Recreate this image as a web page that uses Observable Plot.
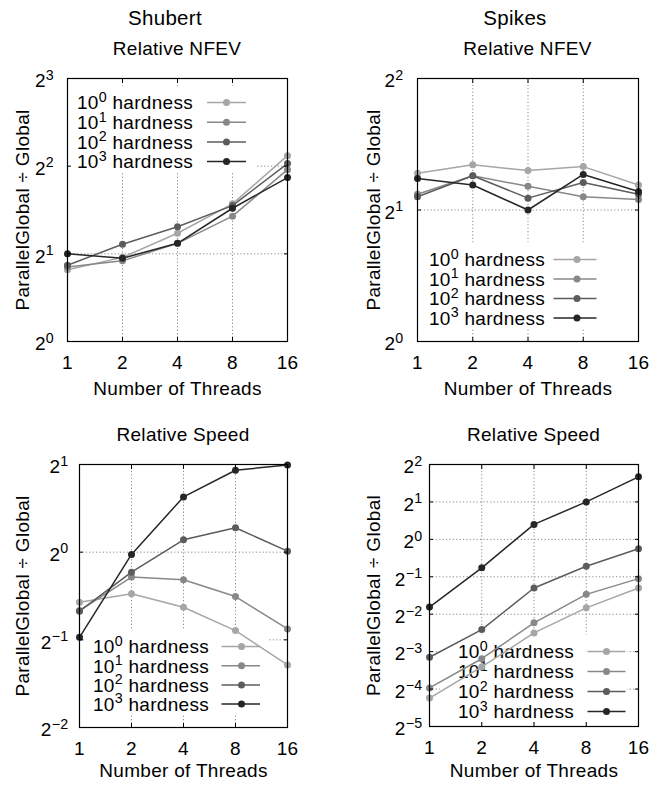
<!DOCTYPE html>
<html><head><meta charset="utf-8">
<script src="https://cdn.jsdelivr.net/npm/d3@7"></script>
<script src="https://cdn.jsdelivr.net/npm/@observablehq/plot@0.6"></script>
<style>
body{margin:0;background:#fff;}
#root{position:relative;width:671px;height:787px;overflow:hidden;font-family:"Liberation Sans",Arial,Helvetica,sans-serif;color:#000;}
.t{position:absolute;transform:translateX(-50%);white-space:nowrap;line-height:1;letter-spacing:0.3px;}
</style></head><body><div id="root"></div>
<script>
// ---- data ----
const threads = [1, 2, 4, 8, 16];
const hardnessExp = ["0", "1", "2", "3"];
const hardnessLabels = ["10^0 hardness", "10^1 hardness", "10^2 hardness", "10^3 hardness"];

const shubertNfevH0 = [1.763, 1.945, 2.354, 2.969, 4.347];
const shubertNfevH1 = [1.802, 1.892, 2.173, 2.694, 3.891];
const shubertNfevH2 = [1.828, 2.158, 2.479, 2.928, 4.084];
const shubertNfevH3 = [2.000, 1.932, 2.173, 2.868, 3.655];

const spikesNfevH0 = [2.428, 2.540, 2.462, 2.514, 2.282];
const spikesNfevH1 = [2.173, 2.395, 2.266, 2.144, 2.114];
const spikesNfevH2 = [2.144, 2.395, 2.129, 2.313, 2.173];
const spikesNfevH3 = [2.362, 2.282, 2.000, 2.412, 2.204];

const shubertSpeedH0 = [0.673, 0.720, 0.647, 0.538, 0.410];
const shubertSpeedH1 = [0.630, 0.821, 0.804, 0.704, 0.545];
const shubertSpeedH2 = [0.627, 0.854, 1.103, 1.213, 1.008];
const shubertSpeedH3 = [0.510, 0.982, 1.548, 1.911, 1.993];

const spikesSpeedH0 = [0.0529, 0.0941, 0.1768, 0.2813, 0.4061];
const spikesSpeedH1 = [0.0638, 0.1096, 0.2132, 0.3610, 0.4830];
const spikesSpeedH2 = [0.1127, 0.1882, 0.4061, 0.6071, 0.8409];
const spikesSpeedH3 = [0.2852, 0.5905, 1.3195, 2.0000, 3.1820];

// y tick exponents (labels 2^k)
const yExpShubertNfev = [0, 1, 2, 3];
const yExpSpikesNfev = [0, 1, 2];
const yExpShubertSpeed = [-2, -1, 0, 1];
const yExpSpikesSpeed = [-5, -4, -3, -2, -1, 0, 1, 2];

const xLabel = "Number of Threads";
const yLabel = "ParallelGlobal \u00f7 Global";

// ---- style ----
const FONT = '"Liberation Sans", Arial, Helvetica, sans-serif';
const FS = 19;
const seriesColors = ["#a6a6a6", "#888888", "#5c5c5c", "#262626"];
const gridColor = "#8a8a8a";

const panels = [
  {left: 0, top: 0, w: 335, h: 400, mL: 67, mR: 48, mT: 78, mB: 59, yPad: 13.5, yLabOff: 52, xLabOff: 53,
   yExps: yExpShubertNfev, series: [shubertNfevH0, shubertNfevH1, shubertNfevH2, shubertNfevH3],
   key: {row0: 102.5, gap: 19.7, textEnd: 193, l1: 207, l2: 246, mk: 226.5, bL: 70, bR: 256}},
  {left: 335, top: 0, w: 336, h: 400, mL: 82, mR: 33, mT: 78, mB: 59, yPad: 14, yLabOff: 50.6, xLabOff: 53,
   yExps: yExpSpikesNfev, series: [spikesNfevH0, spikesNfevH1, spikesNfevH2, spikesNfevH3],
   key: {row0: 259.5, gap: 19.5, textEnd: 210, l1: 218.5, l2: 261.5, mk: 242, bL: 86, bR: 272}},
  {left: 0, top: 400, w: 335, h: 387, mL: 79, mR: 48, mT: 64, mB: 60, yPad: 11, yLabOff: 64, xLabOff: 49.5,
   yExps: yExpShubertSpeed, series: [shubertSpeedH0, shubertSpeedH1, shubertSpeedH2, shubertSpeedH3],
   key: {row0: 246.5, gap: 19.2, textEnd: 209, l1: 221.5, l2: 260, mk: 241.5, bL: 84, bR: 269}},
  {left: 335, top: 400, w: 336, h: 387, mL: 94, mR: 33, mT: 64, mB: 61, yPad: 7, yLabOff: 62.6, xLabOff: 50,
   yExps: yExpSpikesSpeed, series: [spikesSpeedH0, spikesSpeedH1, spikesSpeedH2, spikesSpeedH3],
   key: {row0: 251.5, gap: 20, textEnd: 239, l1: 252.5, l2: 290.5, mk: 271.5, bL: 105, bR: 292}}
];

const titles = [
  {text: "Shubert", x: 165, top: 7.5, size: 20.5},
  {text: "Spikes", x: 515, top: 7.5, size: 20.5},
  {text: "Relative NFEV", x: 177, top: 39, size: FS},
  {text: "Relative NFEV", x: 527.5, top: 39, size: FS},
  {text: "Relative Speed", x: 183, top: 425, size: FS},
  {text: "Relative Speed", x: 533.5, top: 425, size: FS}
];

const root = document.getElementById("root");
titles.forEach(t => {
  const d = document.createElement("div");
  d.className = "t";
  d.textContent = t.text;
  Object.assign(d.style, {left: t.x + "px", top: t.top + "px", fontSize: t.size + "px"});
  root.appendChild(d);
});

function supText(sel, base, exp, after) {
  sel.text(null);
  sel.append("tspan").text(base);
  sel.append("tspan").attr("font-size", "0.75em").attr("dy", -7.5).text(exp);
  if (after) sel.append("tspan").attr("dy", 7.5).text(after);
}

panels.forEach(p => {
  const yTicks = p.yExps.map(e => Math.pow(2, e));
  const rows = [];
  p.series.forEach((vals, i) => vals.forEach((v, j) => rows.push({threads: threads[j], value: v, hardness: hardnessLabels[i]})));
  const gridStyle = {stroke: gridColor, strokeOpacity: 1, strokeWidth: 1, strokeDasharray: "1.2,2.2"};
  const marks = [
    Plot.gridX(threads.slice(1, -1), gridStyle),
    Plot.gridY(yTicks.slice(1, -1), gridStyle)
  ];
  hardnessLabels.forEach(h => {
    const d = rows.filter(r => r.hardness === h);
    marks.push(Plot.line(d, {x: "threads", y: "value", stroke: "hardness", strokeWidth: 1.5}));
    marks.push(Plot.dot(d, {x: "threads", y: "value", fill: "hardness", r: 3.5}));
  });
  // inward mirrored ticks (gnuplot style)
  const tickStyle = {tickSize: -4, fill: "none", label: null, stroke: "#000"};
  marks.push(Plot.axisX({anchor: "bottom", ticks: threads, ...tickStyle}));
  marks.push(Plot.axisX({anchor: "top", ticks: threads, ...tickStyle}));
  marks.push(Plot.axisY({anchor: "left", ticks: yTicks, ...tickStyle}));
  marks.push(Plot.axisY({anchor: "right", ticks: yTicks, ...tickStyle}));
  marks.push(Plot.frame({stroke: "#000", strokeWidth: 1.2}));
  marks.push(Plot.axisX({ticks: threads, tickSize: 0, tickPadding: 13.5, tickFormat: d => String(d),
    label: xLabel, labelAnchor: "center", labelOffset: p.xLabOff, labelArrow: "none"}));
  marks.push(Plot.axisY({ticks: yTicks, tickSize: 0, tickPadding: p.yPad, dy: 2.7,
    tickFormat: d => "2^" + Math.round(Math.log2(d)),
    label: yLabel, labelAnchor: "center", labelOffset: p.yLabOff, labelArrow: "none"}));

  const svg = Plot.plot({
    width: p.w, height: p.h,
    marginLeft: p.mL, marginRight: p.mR, marginTop: p.mT, marginBottom: p.mB,
    style: {fontFamily: FONT, fontSize: FS + "px", letterSpacing: "0.3px", color: "#000", background: "none", overflow: "visible"},
    x: {type: "log", base: 2, domain: [threads[0], threads[threads.length - 1]], labelArrow: "none"},
    y: {type: "log", base: 2, domain: [yTicks[0], yTicks[yTicks.length - 1]], labelArrow: "none"},
    color: {domain: hardnessLabels, range: seriesColors},
    marks
  });
  Object.assign(svg.style, {position: "absolute", left: p.left + "px", top: p.top + "px"});

  // strip any label arrows
  d3.select(svg).selectAll("text").each(function () {
    if (/[\u2191\u2192\u2190\u2193]/.test(this.textContent) && this.childElementCount === 0) {
      this.textContent = this.textContent.replace(/\s*[\u2191\u2192\u2190\u2193]\s*/g, "").trim();
    }
  });

  // superscript tick labels
  d3.select(svg).selectAll('g[aria-label="y-axis tick label"] text').each(function () {
    const [b, e] = this.textContent.split("^");
    if (e !== undefined) supText(d3.select(this), b, e.replace("-", "\u2212"));
  });

  // key (gnuplot style, hides grid behind it)
  const k = p.key;
  const g = d3.create("svg:g").attr("aria-label", "key");
  g.append("rect").attr("x", k.bL).attr("y", k.row0 - 17)
    .attr("width", k.bR - k.bL).attr("height", 3 * k.gap + 27).attr("fill", "#fff");
  hardnessLabels.forEach((h, i) => {
    const y = k.row0 + i * k.gap;
    const t = g.append("text").attr("x", k.textEnd).attr("y", y + 6.8).attr("text-anchor", "end").attr("fill", "#000");
    supText(t, h.split("^")[0], hardnessExp[i], " hardness");
    g.append("line").attr("x1", k.l1).attr("x2", k.l2).attr("y1", y).attr("y2", y)
      .attr("stroke", seriesColors[i]).attr("stroke-width", 1.5);
    g.append("circle").attr("cx", k.mk).attr("cy", y).attr("r", 3.5).attr("fill", seriesColors[i]);
  });
  const yGrid = svg.querySelector('g[aria-label="y-grid"]');
  svg.insertBefore(g.node(), yGrid.nextSibling);

  root.appendChild(svg);
});
</script></body></html>
